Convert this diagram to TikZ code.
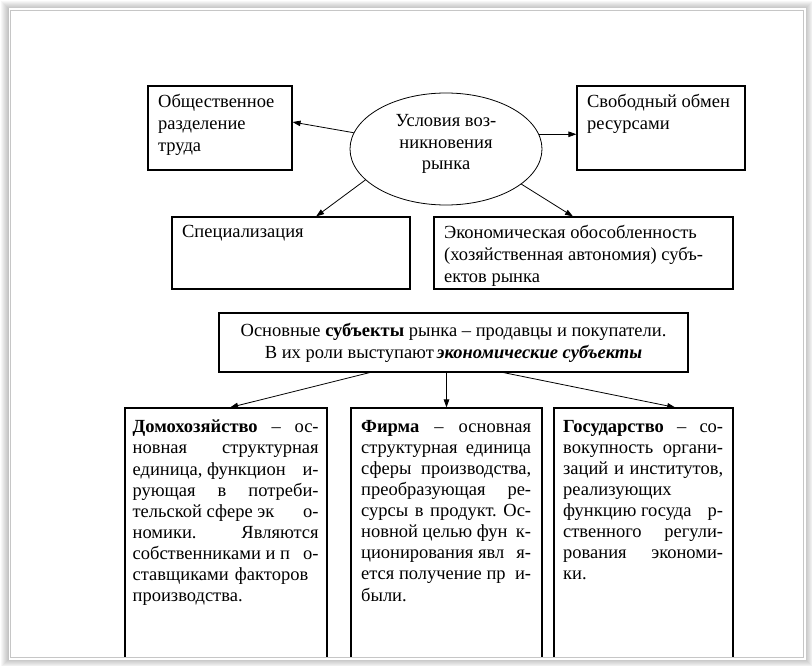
\documentclass[tikz,border=0pt]{standalone}
\usepackage{fontspec}
\setmainfont{Liberation Serif}
\usetikzlibrary{shapes.geometric,arrows.meta,calc}
\setlength\parindent{0pt}
\newcommand\jl[1]{\makebox[\hsize][s]{\frenchspacing\spaceskip=0.25em plus 1fil\xspaceskip=0.25em plus 1fil\relax #1}}
\begin{document}
\begin{tikzpicture}[x=1pt,y=-1pt,
  box/.style={draw, line width=1.1pt, inner sep=0pt, rectangle},
  lbl/.style={anchor=north west, align=left, inner xsep=10.5pt, inner ysep=9pt, font=\fontsize{18.5}{22}\selectfont},
  blbl/.style={anchor=north west, align=left, inner ysep=12.5pt, font=\fontsize{18.5}{21.1}\selectfont},
  arr/.style={-{Triangle[length=8pt,width=5.5pt]}, line width=0.8pt},
  frameline/.style={draw=gray!45, line width=1pt},
  shade/.style={fill=black, opacity=0.03}
]
\useasboundingbox (0,0) rectangle (812,666);
\fill[white] (0,0) rectangle (812,666);
\foreach \k in {1,...,8}{\fill[shade] (9-\k,9-\k) rectangle (805+\k,659+\k);}
\fill[white] (8.5,8.5) rectangle (805.5,659.5);

\begin{scope}
\clip (11,11) rectangle (803,657);

\node[box, minimum width=144pt, minimum height=84pt,
  label={[lbl]north west:{Общественное\\разделение\\труда}}] (obsh) at (220,128) {};
\node[ellipse, draw, line width=0.8pt, minimum width=192pt, minimum height=112pt, inner sep=0pt,
  label={[yshift=5pt, align=center, font=\fontsize{18.5}{21.5}\selectfont]center:{Условия воз-\\никновения\\рынка}}] (ell) at (446,149) {};
\node[box, minimum width=168pt, minimum height=84pt,
  label={[lbl]north west:{Свободный обмен\\ресурсами}}] (svob) at (661,128) {};
\node[box, minimum width=238pt, minimum height=72pt,
  label={[lbl]north west:{Специализация}}] (spec) at (291,253) {};
\node[box, minimum width=299pt, minimum height=72pt,
  label={[lbl]north west:{Экономическая обособленность\\(хозяйственная автономия) субъ-\\ектов рынка}}] (econ) at (583.5,253) {};
\node[box, minimum width=469pt, minimum height=59pt, align=center, font=\fontsize{18.5}{22}\selectfont] (main) at (453.5,342.5)
  {Основные \textbf{субъекты} рынка – продавцы и покупатели.\\В их роли выступают\,\textbf{\textit{экономические субъекты}}};

\node[box, minimum width=202pt, minimum height=300pt,
  label={[blbl, text width=186pt, inner xsep=8pt]north west:{%
\jl{\textbf{Домохозяйство} – ос-}\\
\jl{новная структурная}\\
\jl{единица, функцион\hfill и-}\\
\jl{рующая в потреби-}\\
\jl{тельской сфере эк\hfill о-}\\
\jl{номики. Являются}\\
\jl{собственниками и п\hfill о-}\\
ставщиками факторов\\
производства.}}] (dom) at (226,558) {};
\node[box, minimum width=191pt, minimum height=300pt,
  label={[blbl, text width=170pt, inner xsep=10.5pt]north west:{%
\jl{\textbf{Фирма} – основная}\\
\jl{структурная единица}\\
\jl{сферы производства,}\\
\jl{преобразующая ре-}\\
\jl{сурсы в продукт. Ос-}\\
\jl{новной целью фун\hfill к-}\\
\jl{ционирования явл\hfill я-}\\
\jl{ется получение пр\hfill и-}\\
были.}}] (firm) at (446.5,558) {};
\node[box, minimum width=179pt, minimum height=300pt,
  label={[blbl, text width=160pt, inner xsep=9.5pt]north west:{%
\jl{\textbf{Государство} – со-}\\
\jl{вокупность органи-}\\
\jl{заций и институтов,}\\
реализующих\\
\jl{функцию госуда\hfill р-}\\
\jl{ственного регули-}\\
\jl{рования экономи-}\\
ки.}}] (gov) at (643.5,558) {};

\draw[arr] (ell.170) -- ($(obsh.north east)!0.43!(obsh.south east)$);
\draw[arr] (ell.201) -- ($(spec.north west)!0.605!(spec.north east)$);
\draw[arr] (ell.9) -- (ell.9 -| svob.west);
\draw[arr] (ell.335) -- ($(econ.north west)!0.465!(econ.north east)$);
\draw[arr] ($(main.south west)!0.322!(main.south east)$) -- ($(dom.north west)!0.52!(dom.north east)$);
\draw[arr] (firm.north |- main.south) -- (firm.north);
\draw[arr] ($(main.south west)!0.606!(main.south east)$) -- ($(gov.north west)!0.676!(gov.north east)$);
\end{scope}
\draw[frameline] (10.5,10.5) rectangle (803.5,657.5);
\end{tikzpicture}
\end{document}
